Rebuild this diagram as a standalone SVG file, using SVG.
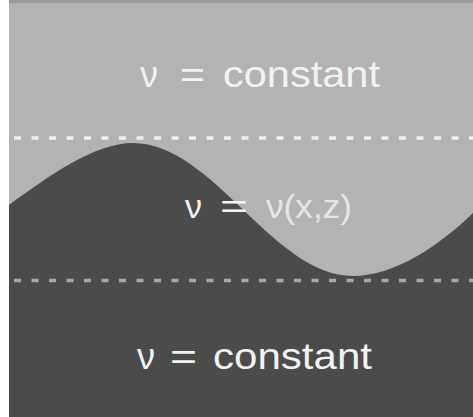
<svg xmlns="http://www.w3.org/2000/svg" width="473" height="417" viewBox="0 0 473 417">
<style>
.lbl{font-family:"Liberation Sans","DejaVu Sans",Arial,sans-serif;fill:#f2f2f2;}
.dash{fill:none;stroke-width:3.5;stroke-dasharray:7 10.5;}
</style>
<rect x="0" y="0" width="473" height="417" fill="#ffffff"/>
<rect x="9" y="0" width="464" height="417" fill="#b3b3b3"/>
<rect x="9" y="0" width="464" height="3" fill="#9a9a9a"/>
<path d="M9,205 C50,175 95,143 133,143 C213,143 273,276 353,276 C395,276 440,245 473,213 L473,417 L9,417 Z" fill="#4b4b4b"/>
<line x1="14" y1="138" x2="473" y2="138" class="dash" stroke="#f0f0f0"/>
<line x1="14" y1="280.5" x2="473" y2="280.5" class="dash" stroke="#a8a8a8"/>
<g id="top-label">
<text class="lbl" font-size="36" y="87"><tspan x="140">ν</tspan><tspan x="180" textLength="25" lengthAdjust="spacingAndGlyphs">=</tspan><tspan x="223" textLength="157" lengthAdjust="spacingAndGlyphs">constant</tspan></text>
</g>
<g id="middle-label">
<text class="lbl" font-size="34" y="218"><tspan x="185">ν</tspan><tspan x="220" textLength="28" lengthAdjust="spacingAndGlyphs">=</tspan><tspan x="266" textLength="86" lengthAdjust="spacingAndGlyphs" fill="#e6e6e6">ν(x,z)</tspan></text>
</g>
<g id="bottom-label">
<text class="lbl" font-size="36" y="369"><tspan x="137">ν</tspan><tspan x="170" textLength="27" lengthAdjust="spacingAndGlyphs">=</tspan><tspan x="213" textLength="159" lengthAdjust="spacingAndGlyphs">constant</tspan></text>
</g>
</svg>
